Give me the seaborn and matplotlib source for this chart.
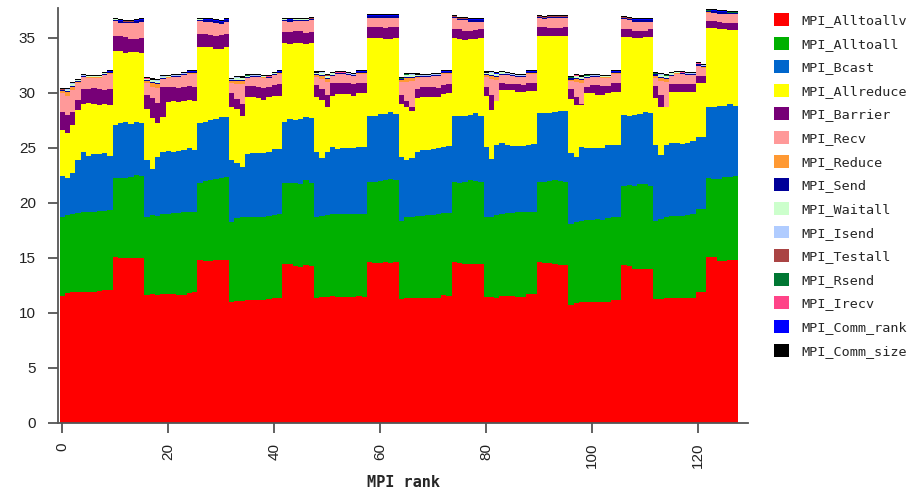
import numpy as np
import pandas as pd
import seaborn as sns
from matplotlib import pyplot as plt
from matplotlib.patches import Patch

sns.set_style("ticks")

calls = ["MPI_Alltoallv", "MPI_Alltoall", "MPI_Bcast", "MPI_Allreduce",
         "MPI_Barrier", "MPI_Recv", "MPI_Reduce", "MPI_Send", "MPI_Waitall",
         "MPI_Isend", "MPI_Testall", "MPI_Rsend", "MPI_Irecv",
         "MPI_Comm_rank", "MPI_Comm_size"]
colors = ["#ff0000", "#00b000", "#0066cc", "#ffff00", "#770077", "#ff9999",
          "#ff9933", "#000099", "#ccffcc", "#b0ccff", "#aa4444", "#007733",
          "#ff4488", "#0000ff", "#000000"]

ranks = list(range(128))

# Cumulative tops (seconds) of the big layers per rank
alltoallv_top = [
    11.55, 11.76, 11.85, 11.91, 11.85, 11.91, 11.88, 11.97, 12.06, 12.06, 15.09, 14.94, 14.94, 14.94, 14.94, 14.94,
    11.61, 11.70, 11.61, 11.70, 11.70, 11.70, 11.61, 11.61, 11.82, 11.85, 14.79, 14.73, 14.73, 14.79, 14.79, 14.79,
    11.00, 11.09, 11.09, 11.15, 11.15, 11.15, 11.15, 11.22, 11.31, 11.37, 14.43, 14.40, 14.25, 14.19, 14.34, 14.25,
    11.37, 11.40, 11.46, 11.52, 11.46, 11.46, 11.46, 11.46, 11.52, 11.46, 14.58, 14.55, 14.55, 14.58, 14.49, 14.58,
    11.22, 11.31, 11.31, 11.31, 11.37, 11.37, 11.31, 11.31, 11.61, 11.55, 14.64, 14.55, 14.40, 14.40, 14.46, 14.40,
    11.46, 11.46, 11.37, 11.52, 11.52, 11.52, 11.46, 11.46, 11.70, 11.70, 14.64, 14.49, 14.49, 14.40, 14.37, 14.37,
    10.70, 10.85, 10.94, 10.94, 10.94, 10.94, 10.94, 10.94, 11.15, 11.15, 14.34, 14.25, 13.97, 13.97, 13.97, 13.97,
    11.22, 11.27, 11.31, 11.31, 11.31, 11.31, 11.31, 11.31, 11.91, 11.91, 15.03, 15.03, 14.70, 14.70, 14.79, 14.79]
alltoall_top = [
    18.67, 18.88, 18.97, 19.03, 19.18, 19.12, 19.18, 19.25, 19.25, 19.34, 22.22, 22.22, 22.22, 22.37, 22.52, 22.46,
    18.73, 18.88, 18.82, 18.97, 18.97, 19.03, 19.03, 19.12, 19.18, 19.18, 21.82, 22.00, 22.07, 22.16, 22.22, 22.37,
    18.28, 18.58, 18.67, 18.73, 18.73, 18.67, 18.73, 18.82, 18.88, 18.97, 21.76, 21.82, 21.76, 21.70, 22.07, 21.82,
    18.67, 18.79, 18.88, 18.97, 18.97, 18.97, 18.97, 18.97, 18.97, 18.97, 21.85, 21.91, 21.97, 22.07, 22.16, 22.07,
    18.37, 18.67, 18.73, 18.79, 18.79, 18.88, 18.88, 18.97, 19.03, 19.09, 21.85, 21.76, 21.85, 22.07, 21.97, 21.91,
    18.67, 18.73, 18.88, 18.97, 19.03, 19.09, 19.18, 19.18, 19.18, 19.18, 21.85, 21.91, 21.97, 22.07, 22.00, 21.85,
    18.03, 18.28, 18.37, 18.43, 18.43, 18.49, 18.43, 18.58, 18.67, 18.73, 21.55, 21.61, 21.55, 21.70, 21.70, 21.55,
    18.37, 18.49, 18.67, 18.79, 18.79, 18.79, 18.88, 18.97, 19.40, 19.40, 22.22, 22.13, 22.16, 22.31, 22.37, 22.46]
bcast_top = [
    22.46, 22.28, 22.67, 23.88, 24.64, 24.27, 24.43, 24.40, 24.49, 24.27, 27.06, 27.22, 27.37, 27.15, 27.37, 27.22,
    23.88, 23.03, 24.18, 24.64, 24.73, 24.64, 24.73, 24.79, 24.94, 24.79, 27.28, 27.37, 27.52, 27.58, 27.76, 27.76,
    23.88, 23.58, 23.22, 24.43, 24.55, 24.55, 24.55, 24.64, 24.85, 24.85, 27.37, 27.58, 27.52, 27.58, 27.76, 27.67,
    24.64, 24.03, 24.64, 25.03, 24.85, 24.94, 24.94, 24.94, 25.09, 25.09, 27.88, 27.88, 28.06, 28.06, 28.28, 28.06,
    24.18, 23.88, 24.03, 24.58, 24.79, 24.79, 24.91, 24.94, 25.09, 25.15, 27.88, 27.88, 27.88, 27.97, 28.12, 27.88,
    25.09, 23.94, 25.25, 25.40, 25.25, 25.15, 25.15, 25.15, 25.25, 25.34, 28.12, 28.18, 28.18, 28.28, 28.37, 28.37,
    24.49, 24.18, 25.03, 25.00, 24.94, 24.94, 25.00, 25.25, 25.25, 25.25, 27.97, 27.88, 27.97, 28.06, 28.22, 28.12,
    25.25, 24.33, 25.25, 25.46, 25.46, 25.34, 25.40, 25.64, 26.00, 26.00, 28.70, 28.70, 28.76, 28.82, 28.97, 28.82]
allreduce_top = [
    26.61, 26.37, 27.06, 28.43, 28.94, 29.03, 28.97, 28.88, 28.97, 28.88, 33.82, 33.82, 33.64, 33.73, 33.73, 33.64,
    28.49, 27.67, 27.22, 27.82, 29.18, 29.27, 29.18, 29.27, 29.33, 29.27, 34.12, 34.12, 34.12, 33.94, 33.94, 34.12,
    28.67, 28.49, 27.88, 29.58, 29.58, 29.49, 29.33, 29.58, 29.73, 29.73, 34.49, 34.43, 34.49, 34.49, 34.40, 34.49,
    29.58, 29.33, 28.67, 29.70, 29.88, 29.88, 29.88, 29.70, 29.94, 29.94, 34.94, 34.94, 34.94, 34.85, 34.88, 34.94,
    28.97, 28.73, 28.37, 29.49, 29.64, 29.64, 29.58, 29.64, 29.88, 29.94, 34.94, 34.85, 34.79, 34.85, 34.85, 34.94,
    29.70, 28.43, 29.40, 30.24, 30.24, 30.24, 30.09, 30.09, 30.18, 30.18, 35.16, 35.16, 35.16, 35.16, 35.16, 35.16,
    29.40, 28.88, 28.88, 29.94, 29.94, 29.79, 29.79, 29.94, 30.09, 30.09, 35.04, 35.04, 34.94, 34.94, 35.04, 35.04,
    29.49, 28.67, 29.40, 30.09, 30.09, 30.09, 30.09, 30.09, 30.85, 30.85, 35.85, 35.85, 35.76, 35.76, 35.70, 35.70]
barrier_top = [
    28.28, 28.00, 28.28, 29.33, 30.34, 30.31, 30.40, 30.34, 30.24, 30.31, 35.16, 35.16, 35.04, 34.85, 34.85, 34.94,
    29.79, 29.49, 29.09, 30.55, 30.49, 30.49, 30.40, 30.49, 30.61, 30.55, 35.34, 35.34, 35.25, 35.16, 35.25, 35.34,
    29.94, 29.40, 28.97, 30.61, 30.61, 30.49, 30.40, 30.49, 30.70, 30.79, 35.55, 35.55, 35.64, 35.64, 35.46, 35.55,
    30.70, 30.31, 29.79, 30.85, 30.91, 30.91, 30.91, 30.79, 30.91, 30.91, 36.00, 36.00, 35.94, 35.85, 35.94, 36.00,
    29.79, 29.27, 28.73, 30.31, 30.49, 30.49, 30.49, 30.40, 30.70, 30.79, 35.76, 35.76, 35.64, 35.64, 35.70, 35.76,
    30.55, 29.79, 29.27, 30.91, 30.79, 30.79, 30.79, 30.70, 30.91, 30.91, 35.94, 35.94, 35.85, 35.85, 35.85, 35.94,
    30.31, 29.58, 28.97, 30.55, 30.70, 30.70, 30.61, 30.61, 30.85, 30.91, 35.76, 35.76, 35.64, 35.64, 35.64, 35.76,
    30.61, 29.79, 28.73, 30.79, 30.79, 30.79, 30.79, 30.79, 31.52, 31.52, 36.55, 36.55, 36.46, 36.37, 36.37, 36.37]
recv_top = [
    30.00, 29.70, 30.22, 30.90, 31.42, 31.36, 31.36, 31.36, 31.60, 31.72, 36.51, 36.36, 36.30, 36.30, 36.36, 36.45,
    30.90, 30.55, 30.45, 31.21, 31.36, 31.42, 31.42, 31.60, 31.72, 31.72, 36.51, 36.45, 36.45, 36.36, 36.27, 36.45,
    30.90, 30.75, 30.75, 31.30, 31.42, 31.42, 31.36, 31.30, 31.60, 31.72, 36.51, 36.45, 36.51, 36.51, 36.51, 36.57,
    31.42, 31.25, 31.00, 31.51, 31.66, 31.66, 31.60, 31.51, 31.72, 31.72, 36.81, 36.81, 36.81, 36.81, 36.81, 36.81,
    30.96, 31.00, 31.06, 31.36, 31.42, 31.42, 31.51, 31.51, 31.72, 31.72, 36.75, 36.57, 36.57, 36.45, 36.45, 36.45,
    31.42, 31.25, 31.15, 31.60, 31.60, 31.51, 31.42, 31.42, 31.72, 31.72, 36.75, 36.66, 36.75, 36.75, 36.75, 36.75,
    31.05, 30.93, 30.84, 31.30, 31.42, 31.42, 31.36, 31.36, 31.72, 31.72, 36.66, 36.57, 36.45, 36.45, 36.45, 36.45,
    31.36, 31.06, 30.99, 31.51, 31.72, 31.66, 31.60, 31.60, 32.42, 32.27, 37.27, 37.27, 37.18, 37.18, 37.11, 37.11]

# Small layers (seconds per rank)
reduce_t = [
    0.15, 0.35, 0.30, 0.05, 0.03, 0.03, 0.03, 0.03, 0.03, 0.03, 0.02, 0.02, 0.02, 0.02, 0.02, 0.02,
    0.20, 0.30, 0.35, 0.05, 0.03, 0.03, 0.03, 0.03, 0.03, 0.03, 0.02, 0.02, 0.02, 0.02, 0.02, 0.02,
    0.15, 0.35, 0.30, 0.05, 0.03, 0.03, 0.03, 0.03, 0.03, 0.03, 0.02, 0.02, 0.02, 0.02, 0.02, 0.02,
    0.20, 0.30, 0.25, 0.05, 0.03, 0.03, 0.03, 0.03, 0.03, 0.03, 0.02, 0.02, 0.02, 0.02, 0.02, 0.02,
    0.15, 0.35, 0.30, 0.05, 0.03, 0.03, 0.03, 0.03, 0.03, 0.03, 0.02, 0.02, 0.02, 0.02, 0.02, 0.02,
    0.20, 0.30, 0.25, 0.05, 0.03, 0.03, 0.03, 0.03, 0.03, 0.03, 0.02, 0.02, 0.02, 0.02, 0.02, 0.02,
    0.15, 0.30, 0.30, 0.05, 0.03, 0.03, 0.03, 0.03, 0.03, 0.03, 0.02, 0.02, 0.02, 0.02, 0.02, 0.02,
    0.20, 0.30, 0.25, 0.05, 0.03, 0.03, 0.03, 0.03, 0.05, 0.05, 0.04, 0.02, 0.02, 0.02, 0.02, 0.02]
send_t = [
    0.10, 0.08, 0.10, 0.08, 0.08, 0.08, 0.08, 0.08, 0.10, 0.10, 0.12, 0.12, 0.12, 0.12, 0.12, 0.12,
    0.10, 0.08, 0.08, 0.08, 0.08, 0.08, 0.08, 0.08, 0.10, 0.10, 0.12, 0.12, 0.12, 0.12, 0.12, 0.12,
    0.10, 0.08, 0.08, 0.08, 0.08, 0.08, 0.08, 0.08, 0.10, 0.10, 0.12, 0.12, 0.12, 0.12, 0.12, 0.12,
    0.10, 0.08, 0.08, 0.08, 0.08, 0.08, 0.08, 0.08, 0.10, 0.10, 0.12, 0.12, 0.12, 0.12, 0.12, 0.12,
    0.10, 0.08, 0.08, 0.08, 0.08, 0.08, 0.08, 0.08, 0.10, 0.10, 0.12, 0.12, 0.12, 0.12, 0.12, 0.12,
    0.10, 0.08, 0.08, 0.08, 0.08, 0.08, 0.08, 0.08, 0.10, 0.10, 0.12, 0.12, 0.12, 0.12, 0.12, 0.12,
    0.10, 0.08, 0.08, 0.08, 0.08, 0.08, 0.08, 0.08, 0.10, 0.10, 0.12, 0.12, 0.12, 0.12, 0.12, 0.12,
    0.10, 0.08, 0.08, 0.08, 0.08, 0.08, 0.08, 0.08, 0.12, 0.12, 0.12, 0.12, 0.12, 0.12, 0.12, 0.12]
waitall_t = [
    0.02, 0.15, 0.20, 0.10, 0.02, 0.02, 0.02, 0.02, 0.02, 0.02, 0.01, 0.01, 0.01, 0.01, 0.01, 0.01,
    0.05, 0.20, 0.20, 0.12, 0.02, 0.02, 0.02, 0.02, 0.02, 0.02, 0.01, 0.01, 0.01, 0.01, 0.01, 0.01,
    0.05, 0.20, 0.18, 0.10, 0.02, 0.02, 0.02, 0.02, 0.02, 0.02, 0.01, 0.01, 0.01, 0.01, 0.01, 0.01,
    0.05, 0.20, 0.20, 0.12, 0.02, 0.02, 0.02, 0.02, 0.02, 0.02, 0.01, 0.01, 0.01, 0.01, 0.01, 0.01,
    0.05, 0.18, 0.20, 0.10, 0.02, 0.02, 0.02, 0.02, 0.02, 0.02, 0.01, 0.01, 0.01, 0.01, 0.01, 0.01,
    0.05, 0.20, 0.20, 0.12, 0.02, 0.02, 0.02, 0.02, 0.02, 0.02, 0.01, 0.01, 0.01, 0.01, 0.01, 0.01,
    0.05, 0.20, 0.18, 0.10, 0.02, 0.02, 0.02, 0.02, 0.02, 0.02, 0.01, 0.01, 0.01, 0.01, 0.01, 0.01,
    0.05, 0.20, 0.20, 0.12, 0.02, 0.02, 0.02, 0.02, 0.02, 0.02, 0.01, 0.01, 0.01, 0.01, 0.01, 0.01]
isend_t = [
    0.02, 0.03, 0.03, 0.02, 0.02, 0.02, 0.02, 0.02, 0.02, 0.02, 0.02, 0.02, 0.02, 0.02, 0.02, 0.02,
    0.02, 0.03, 0.03, 0.02, 0.02, 0.02, 0.02, 0.02, 0.02, 0.02, 0.02, 0.02, 0.02, 0.02, 0.02, 0.02,
    0.02, 0.03, 0.03, 0.02, 0.02, 0.02, 0.02, 0.02, 0.02, 0.02, 0.02, 0.02, 0.02, 0.02, 0.02, 0.02,
    0.02, 0.03, 0.03, 0.02, 0.02, 0.02, 0.02, 0.02, 0.02, 0.02, 0.02, 0.02, 0.02, 0.02, 0.02, 0.02,
    0.02, 0.03, 0.03, 0.02, 0.02, 0.02, 0.02, 0.02, 0.02, 0.02, 0.02, 0.02, 0.02, 0.02, 0.02, 0.02,
    0.02, 0.03, 0.03, 0.02, 0.02, 0.02, 0.02, 0.02, 0.02, 0.02, 0.02, 0.02, 0.02, 0.02, 0.02, 0.02,
    0.02, 0.03, 0.03, 0.02, 0.02, 0.02, 0.02, 0.02, 0.02, 0.02, 0.02, 0.02, 0.02, 0.02, 0.02, 0.02,
    0.02, 0.03, 0.03, 0.02, 0.02, 0.02, 0.02, 0.02, 0.02, 0.02, 0.02, 0.02, 0.02, 0.02, 0.02, 0.02]
# Testall, Rsend, Irecv and Comm_rank are a hair above zero on every rank
testall_t = [0.01] * 128
rsend_t = [0.01] * 128
irecv_t = [0.01] * 128
comm_rank_t = [0.01] * 128
comm_size_t = [
    0.10, 0.10, 0.10, 0.10, 0.10, 0.10, 0.10, 0.10, 0.10, 0.10, 0.10, 0.10, 0.10, 0.10, 0.10, 0.10,
    0.10, 0.10, 0.10, 0.10, 0.10, 0.10, 0.10, 0.10, 0.10, 0.10, 0.10, 0.10, 0.10, 0.10, 0.10, 0.10,
    0.10, 0.10, 0.10, 0.10, 0.10, 0.10, 0.10, 0.10, 0.10, 0.10, 0.10, 0.10, 0.10, 0.10, 0.10, 0.10,
    0.10, 0.10, 0.10, 0.10, 0.10, 0.10, 0.10, 0.10, 0.10, 0.10, 0.10, 0.10, 0.10, 0.10, 0.10, 0.10,
    0.10, 0.10, 0.10, 0.10, 0.10, 0.10, 0.10, 0.10, 0.10, 0.10, 0.10, 0.10, 0.10, 0.10, 0.10, 0.10,
    0.10, 0.10, 0.10, 0.10, 0.10, 0.10, 0.10, 0.10, 0.10, 0.10, 0.10, 0.10, 0.10, 0.10, 0.10, 0.10,
    0.10, 0.10, 0.10, 0.10, 0.10, 0.10, 0.10, 0.10, 0.10, 0.10, 0.10, 0.10, 0.10, 0.10, 0.10, 0.10,
    0.10, 0.10, 0.10, 0.10, 0.10, 0.10, 0.10, 0.10, 0.10, 0.10, 0.10, 0.10, 0.10, 0.10, 0.10, 0.10]

# Turn the cumulative tops back into per-call times
tops = np.array([alltoallv_top, alltoall_top, bcast_top, allreduce_top,
                 barrier_top, recv_top])
big = np.diff(np.vstack([np.zeros(128), tops]), axis=0)
small = [reduce_t, send_t, waitall_t, isend_t, testall_t, rsend_t,
         irecv_t, comm_rank_t, comm_size_t]
times = list(big) + [np.array(s) for s in small]

df = pd.concat([pd.DataFrame({"rank": ranks, "call": c, "time": t})
                for c, t in zip(calls, times)], ignore_index=True)
palette = dict(zip(calls, colors))

fig = plt.figure(figsize=(9.13, 4.93), dpi=100)
ax = fig.add_axes([58 / 913, 70.3 / 493, 690 / 913, 414.7 / 493])

# seaborn stacks the last hue level at the bottom, so pass the order reversed
sns.histplot(data=df, x="rank", weights="time", hue="call",
             hue_order=calls[::-1], palette=palette, multiple="stack",
             discrete=True, element="step", fill=True, linewidth=0,
             alpha=1, legend=False, ax=ax)
sns.despine(ax=ax)

ax.set_xlim(-0.8, 129.4)
ax.set_ylim(0, 37.7)
ax.set_xticks(range(0, 121, 20))
ax.set_yticks(range(0, 36, 5))
for s in ("left", "bottom"):
    ax.spines[s].set_color("#555555")
    ax.spines[s].set_linewidth(1.3)
ax.tick_params(axis="both", direction="out", length=7, width=1.3,
               color="#555555", labelsize=11, labelcolor="#222222")
ax.tick_params(axis="y", pad=9)
ax.tick_params(axis="x", labelrotation=90, pad=7.5)
for lab in ax.get_xticklabels() + ax.get_yticklabels():
    lab.set_family("Liberation Sans")
ax.set_ylabel("")
ax.set_xlabel("MPI rank", family="DejaVu Sans Mono", fontweight="bold",
              fontsize=11, labelpad=5)

handles = [Patch(facecolor=c, edgecolor="none") for c in colors]
fig.legend(handles, calls, loc="upper left",
           bbox_to_anchor=(774 / 913, 1 - 13 / 493), frameon=False,
           prop={"family": "DejaVu Sans Mono", "size": 9.7},
           handlelength=1.1, handleheight=1.1, handletextpad=0.95,
           labelspacing=0.71, borderpad=0, borderaxespad=0)

fig.savefig("out.png", dpi=100)
